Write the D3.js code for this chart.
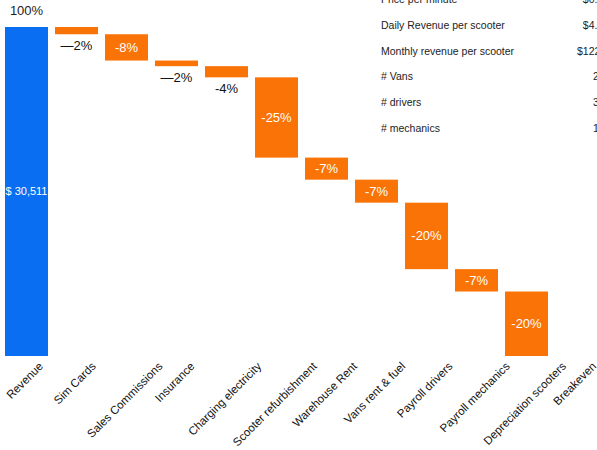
<!DOCTYPE html>
<html><head><meta charset="utf-8">
<script src="https://cdn.jsdelivr.net/npm/d3@7"></script>
<style>
html,body{margin:0;padding:0;background:#fff;overflow:hidden}
svg{display:block;font-family:"Liberation Sans",Arial,Helvetica,sans-serif}
</style></head>
<body>
<svg id="chart" width="597" height="450"></svg>
<script>
// ---- data ----
const categories = ["Revenue","Sim Cards","Sales Commissions","Insurance","Charging electricity","Scooter refurbishment","Warehouse Rent","Vans rent & fuel","Payroll drivers","Payroll mechanics","Depreciation scooters","Breakeven"];
const values = [100, -2.2, -8.0, -1.7, -3.4, -24.4, -6.7, -7.0, -20.2, -6.8, -19.6, 0]; // % of revenue
const barLabels = ["$ 30,511","—2%","-8%","—2%","-4%","-25%","-7%","-7%","-20%","-7%","-20%",""];
const revenueTopLabel = "100%";
const tableLabels = ["Price per minute","Daily Revenue per scooter","Monthly revenue per scooter","# Vans","# drivers","# mechanics"];
const tableValues = ["$0.15","$4.07","$122.10","2","3","1"];

// ---- build waterfall ----
let cum = 0;
const rows = categories.map((c,i)=>{
  const v = values[i];
  let y0, y1;
  if (i===0){ y0=0; y1=v; cum=v; }
  else { y0=cum+v; y1=cum; cum+=v; }
  return {cat:c, v, lo:Math.min(y0,y1), hi:Math.max(y0,y1), label:barLabels[i], i};
});

const svg = d3.select("#chart");
const x = d3.scaleBand().domain(categories).range([1.5, 1.5+12*50]).paddingInner(0.14).paddingOuter(0.07);
const y = d3.scaleLinear().domain([0,100]).range([356,27]);

const blue = "#0a6ef3", orange = "#f97306";

const g = svg.append("g");
g.selectAll("rect.bar").data(rows.filter(d=>d.hi-d.lo>0)).join("rect")
  .attr("class","bar")
  .attr("x",d=>x(d.cat)).attr("width",x.bandwidth())
  .attr("y",d=>y(d.hi)).attr("height",d=>y(d.lo)-y(d.hi))
  .attr("fill",d=>d.i===0?blue:orange);

// value labels
rows.forEach(d=>{
  if(!d.label) return;
  const h = y(d.lo)-y(d.hi);
  const cx = x(d.cat)+x.bandwidth()/2;
  if (d.i===0){
    g.append("text").attr("x",cx).attr("y",(y(d.lo)+y(d.hi))/2).attr("dy","0.35em")
      .attr("text-anchor","middle").attr("fill","#fff").attr("font-size",11).text(d.label);
    g.append("text").attr("x",cx).attr("y",y(d.hi)-12)
      .attr("text-anchor","middle").attr("fill","#222").attr("font-size",13).text(revenueTopLabel);
  } else if (h < 15){
    g.append("text").attr("x",cx).attr("y",y(d.lo)+16)
      .attr("text-anchor","middle").attr("fill","#111").attr("font-size",13).text(d.label);
  } else {
    g.append("text").attr("x",cx).attr("y",(y(d.lo)+y(d.hi))/2).attr("dy","0.35em")
      .attr("text-anchor","middle").attr("fill","#fff").attr("font-size",13).text(d.label);
  }
});

// category labels (rotated, horizontally centred under bar)
const xl = svg.append("g");
categories.forEach(c=>{
  const t = xl.append("text").attr("font-size",11.5).attr("fill","#111").attr("text-anchor","end").text(c);
  const len = t.node().getComputedTextLength();
  const cx = x(c)+x.bandwidth()/2 + len*0.7071/2 + 1;
  t.attr("transform",`translate(${cx},367) rotate(-45)`);
});

// top-right table
const tb = svg.append("g");
tableLabels.forEach((l,i)=>{
  const yy = 3 + i*25.8;
  tb.append("text").attr("x",381).attr("y",yy).attr("font-size",10.5).attr("fill","#222").text(l);
  tb.append("text").attr("x",596).attr("y",yy).attr("text-anchor","middle").attr("font-size",10.5).attr("fill","#222").text(tableValues[i]);
});
</script>
</body></html>
